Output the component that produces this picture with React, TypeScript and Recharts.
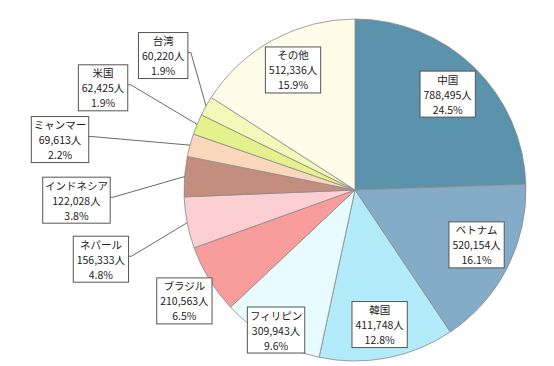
import { PieChart, Pie, Cell } from 'recharts';

const countries = ['中国', 'ベトナム', '韓国', 'フィリピン', 'ブラジル', 'ネパール', 'インドネシア', 'ミャンマー', '米国', '台湾', 'その他'];
const people = [788495, 520154, 411748, 309943, 210563, 156333, 122028, 69613, 62425, 60220, 512336];
const colors = ['#5a93ab', '#84abc8', '#b2ebf9', '#e8fbfe', '#f89c9c', '#fcd0d3', '#c38e7e', '#fbd8bc', '#e3f28c', '#f4f8b8', '#fffce9'];

// label placement: distance as a factor of the radius, angle shift (deg, clockwise), leader line
const labelPos = [
  { r: 0.78, shift: 0, line: false },
  { r: 0.78, shift: -2.8, line: false },
  { r: 0.8, shift: 0.5, line: false },
  { r: 0.94, shift: 0, line: false },
  { r: 1.19, shift: -1.5, line: false },
  { r: 1.54, shift: -4.2, line: true },
  { r: 1.63, shift: -6.6, line: true },
  { r: 1.75, shift: -5.5, line: true },
  { r: 1.59, shift: -0.5, line: true },
  { r: 1.37, shift: 5.6, line: true },
  { r: 0.79, shift: 1.3, line: false },
];

const data = countries.map((name, i) => ({ name, value: people[i] }));

const FS = 10.5;
const FONT = '"Noto Sans CJK JP", "Noto Sans", sans-serif';
const RAD = Math.PI / 180;

function textWidth(s: string) {
  let w = 0;
  for (const ch of s) {
    if (/[0-9]/.test(ch)) w += FS * 0.56;
    else if (ch === ',' || ch === '.') w += FS * 0.28;
    else if (ch === '%') w += FS * 0.85;
    else w += FS * 0.96;
  }
  return w;
}

function renderLabel(props: any) {
  const { cx, cy, midAngle, outerRadius, index, percent, value } = props;
  const pos = labelPos[index];
  const ang = (midAngle - pos.shift) * RAD;
  const d = outerRadius * pos.r;
  const x = cx + d * Math.cos(ang);
  const y = cy - d * Math.sin(ang);
  const lines = [
    countries[index],
    `${value.toLocaleString('en-US')}人`,
    `${(percent * 100).toFixed(1)}%`,
  ];
  const w = Math.max(...lines.map(textWidth)) + 7;
  const h = 46;
  const ex = cx + outerRadius * Math.cos(midAngle * RAD);
  const ey = cy - outerRadius * Math.sin(midAngle * RAD);
  const ax = x + w / 2;
  const ay = y - 3;
  return (
    <g key={`lbl-${index}`}>
      {pos.line && (
        <polyline
          points={`${ex},${ey} ${ax + 3},${ay} ${ax},${ay}`}
          fill="none"
          stroke="#444"
          strokeWidth={0.8}
        />
      )}
      <rect x={x - w / 2} y={y - h / 2} width={w} height={h} fill="#fff" stroke="#555" strokeWidth={1} />
      {lines.map((t, k) => (
        <text
          key={k}
          x={x}
          y={y + (k - 1) * 15}
          textAnchor="middle"
          dominantBaseline="central"
          fontSize={FS}
          fontFamily={FONT}
          fill="#222"
        >
          {t}
        </text>
      ))}
    </g>
  );
}

export default function App() {
  return (
    <div style={{ position: 'absolute', left: 0, top: 0, width: 554, height: 366, background: '#fff' }}>
      <PieChart width={554} height={366}>
        <Pie
          data={data}
          dataKey="value"
          nameKey="name"
          cx={350}
          cy={185}
          outerRadius={171}
          startAngle={90}
          endAngle={-270}
          stroke="#8a8a8a"
          strokeWidth={0.8}
          label={renderLabel}
          labelLine={false}
          isAnimationActive={false}
        >
          {data.map((d, i) => (
            <Cell key={d.name} fill={colors[i]} />
          ))}
        </Pie>
      </PieChart>
    </div>
  );
}
